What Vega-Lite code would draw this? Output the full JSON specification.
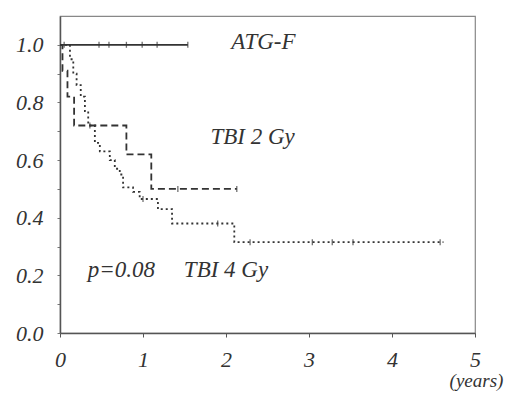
{
  "$schema": "https://vega.github.io/schema/vega-lite/v6.json",
  "width": 415,
  "height": 317,
  "autosize": "none",
  "padding": {"left": 60, "top": 16, "right": 34, "bottom": 60},
  "background": "white",
  "config": {
    "view": {"stroke": "#888", "strokeWidth": 1.2},
    "font": "Liberation Serif"
  },
  "datasets": {
    "curves": [
      {"group": "ATG-F", "t": 0, "s": 1.0},
      {"group": "ATG-F", "t": 1.54, "s": 1.0},
      {"group": "TBI 2 Gy", "t": 0, "s": 1.0},
      {"group": "TBI 2 Gy", "t": 0.03, "s": 0.91},
      {"group": "TBI 2 Gy", "t": 0.09, "s": 0.82},
      {"group": "TBI 2 Gy", "t": 0.17, "s": 0.72},
      {"group": "TBI 2 Gy", "t": 0.8, "s": 0.62},
      {"group": "TBI 2 Gy", "t": 1.1, "s": 0.5},
      {"group": "TBI 2 Gy", "t": 2.13, "s": 0.5},
      {"group": "TBI 4 Gy", "t": 0, "s": 1.0},
      {"group": "TBI 4 Gy", "t": 0.12, "s": 0.95},
      {"group": "TBI 4 Gy", "t": 0.16, "s": 0.9},
      {"group": "TBI 4 Gy", "t": 0.2, "s": 0.86},
      {"group": "TBI 4 Gy", "t": 0.25, "s": 0.82},
      {"group": "TBI 4 Gy", "t": 0.3, "s": 0.77},
      {"group": "TBI 4 Gy", "t": 0.34, "s": 0.72},
      {"group": "TBI 4 Gy", "t": 0.42, "s": 0.66},
      {"group": "TBI 4 Gy", "t": 0.48, "s": 0.63},
      {"group": "TBI 4 Gy", "t": 0.6, "s": 0.6},
      {"group": "TBI 4 Gy", "t": 0.66, "s": 0.57},
      {"group": "TBI 4 Gy", "t": 0.72, "s": 0.55},
      {"group": "TBI 4 Gy", "t": 0.76, "s": 0.505},
      {"group": "TBI 4 Gy", "t": 0.88, "s": 0.49},
      {"group": "TBI 4 Gy", "t": 0.96, "s": 0.465},
      {"group": "TBI 4 Gy", "t": 1.18, "s": 0.43},
      {"group": "TBI 4 Gy", "t": 1.35, "s": 0.38},
      {"group": "TBI 4 Gy", "t": 2.1, "s": 0.315},
      {"group": "TBI 4 Gy", "t": 4.62, "s": 0.315}
    ],
    "censors": [
      {"group": "ATG-F", "t": 0.05, "s": 1.0},
      {"group": "ATG-F", "t": 0.47, "s": 1.0},
      {"group": "ATG-F", "t": 0.59, "s": 1.0},
      {"group": "ATG-F", "t": 0.8, "s": 1.0},
      {"group": "ATG-F", "t": 0.99, "s": 1.0},
      {"group": "ATG-F", "t": 1.17, "s": 1.0},
      {"group": "ATG-F", "t": 1.54, "s": 1.0},
      {"group": "TBI 2 Gy", "t": 1.42, "s": 0.5},
      {"group": "TBI 2 Gy", "t": 2.13, "s": 0.5},
      {"group": "TBI 4 Gy", "t": 0.36, "s": 0.72},
      {"group": "TBI 4 Gy", "t": 1.0, "s": 0.465},
      {"group": "TBI 4 Gy", "t": 1.9, "s": 0.38},
      {"group": "TBI 4 Gy", "t": 2.29, "s": 0.315},
      {"group": "TBI 4 Gy", "t": 3.04, "s": 0.315},
      {"group": "TBI 4 Gy", "t": 3.28, "s": 0.315},
      {"group": "TBI 4 Gy", "t": 3.53, "s": 0.315},
      {"group": "TBI 4 Gy", "t": 4.58, "s": 0.315}
    ],
    "labels": [
      {"label": "ATG-F", "t": 2.45, "s": 1.01},
      {"label": "TBI 2 Gy", "t": 2.32, "s": 0.68},
      {"label": "p=0.08", "t": 0.74, "s": 0.22},
      {"label": "TBI 4 Gy", "t": 2.0, "s": 0.22}
    ]
  },
  "encoding": {
    "x": {
      "field": "t", "type": "quantitative",
      "scale": {"domain": [0, 5], "nice": false, "zero": false},
      "axis": {
        "values": [0, 1, 2, 3, 4, 5],
        "format": "d",
        "grid": false,
        "domainColor": "#555",
        "domainWidth": 1.5,
        "tickColor": "#555",
        "tickSize": 4,
        "labelPadding": 12,
        "labelFont": "Liberation Serif",
        "labelFontStyle": "italic",
        "labelFontSize": 22,
        "labelColor": "#333",
        "labelFlush": false,
        "title": "(years)",
        "titleFont": "Liberation Serif",
        "titleFontStyle": "italic",
        "titleFontWeight": "normal",
        "titleFontSize": 19,
        "titleColor": "#333",
        "titleAnchor": null,
        "titleAlign": "center",
        "titleX": 416,
        "titleY": 38
      }
    },
    "y": {
      "field": "s", "type": "quantitative",
      "scale": {"domain": [0, 1.1], "nice": false},
      "axis": {
        "values": [0, 0.1, 0.2, 0.3, 0.4, 0.5, 0.6, 0.7, 0.8, 0.9, 1.0],
        "labelExpr": "round(datum.value*10) % 2 == 0 ? format(datum.value, '.1f') : ''",
        "grid": false,
        "domainColor": "#555",
        "domainWidth": 1.5,
        "tickColor": "#777",
        "tickSize": 3,
        "labelPadding": 14,
        "labelFont": "Liberation Serif",
        "labelFontStyle": "italic",
        "labelFontSize": 22,
        "labelColor": "#333",
        "labelFlush": false,
        "title": null
      }
    }
  },
  "layer": [
    {
      "data": {"name": "curves"},
      "mark": {"type": "line", "interpolate": "step-after", "color": "#333", "strokeWidth": 1.8},
      "encoding": {
        "detail": {"field": "group"},
        "strokeDash": {
          "field": "group", "type": "nominal",
          "scale": {"domain": ["ATG-F", "TBI 2 Gy", "TBI 4 Gy"], "range": [[1, 0], [7, 4], [2, 3]]},
          "legend": null
        }
      }
    },
    {
      "data": {"name": "censors"},
      "mark": {"type": "tick", "orient": "vertical", "color": "#333", "size": 6, "thickness": 1.3},
      "encoding": {}
    },
    {
      "data": {"name": "labels"},
      "mark": {"type": "text", "font": "Liberation Serif", "fontStyle": "italic", "fontSize": 23, "color": "#333", "align": "center", "baseline": "middle"},
      "encoding": {"text": {"field": "label"}}
    }
  ]
}
